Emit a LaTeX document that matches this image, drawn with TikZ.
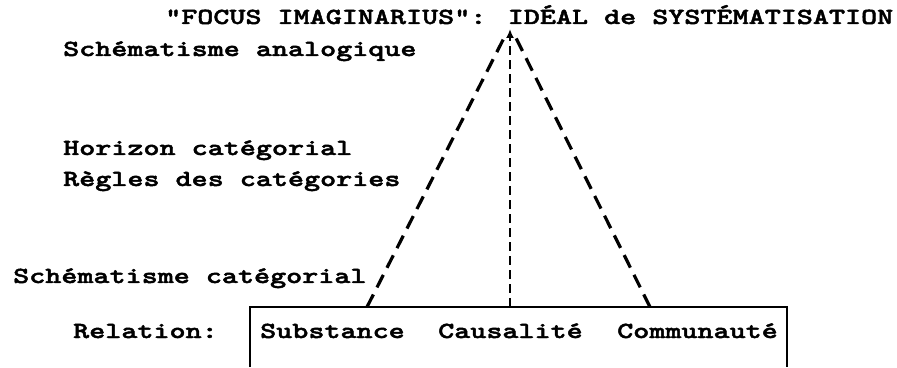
\documentclass[tikz,border=0pt]{standalone}
\usepackage{fontspec}
\newfontfamily\cour[FakeStretch=1.33, FakeBold=2]{lmmonolt10-bold.otf}
\usetikzlibrary{arrows.meta}
\tikzset{
  lbl/.style={anchor=base west, inner sep=0pt, font=\cour\fontsize{23}{23}\selectfont},
  diag/.style={line width=3.2pt, dash pattern=on 14pt off 8pt},
  vert/.style={line width=2.4pt, dash pattern=on 9pt off 5pt},
  boxline/.style={line width=1.5pt}
}
\begin{document}
\begin{tikzpicture}[x=1pt,y=1pt]
\useasboundingbox (0,0) rectangle (897,367);
% texts (baselines measured from top of image)
\node[lbl] (title) at (165,367-24) {"FOCUS IMAGINARIUS": IDÉAL de SYSTÉMATISATION};
\node[lbl] (sana) at (63,367-56) {Schématisme analogique};
\node[lbl] (hor) at (63,367-155) {Horizon catégorial};
\node[lbl] (reg) at (63,367-186) {Règles des catégories};
\node[lbl] (scat) at (13,367-283) {Schématisme catégorial};
\node[lbl] (rel) at (73,367-338) {Relation:};
\node[lbl] (sub) at (260,367-338) {Substance};
\node[lbl] (cau) at (438,367-338) {Causalité};
\node[lbl] (com) at (617,367-338) {Communauté};
% box
\coordinate (bl) at (250,0);
\coordinate (tl) at (250,367-307);
\coordinate (tr) at (787,367-307);
\coordinate (br) at (787,0);
\draw[boxline] (bl) -- (tl) -- (tr) -- (br);
% apex and connectors
\coordinate (apex) at (510,367-29);
\coordinate (lb) at (367,367-307);
\coordinate (cb) at (510,367-307);
\coordinate (rb) at (650,367-307);
\coordinate (lt) at (505,367-36);
\coordinate (rt) at (515,367-36);
\draw[diag] (lb) -- (lt);
\draw[diag] (rb) -- (rt);
\draw[vert, -{Latex[length=9pt,width=8pt]}] (cb) -- (apex);
\end{tikzpicture}
\end{document}
